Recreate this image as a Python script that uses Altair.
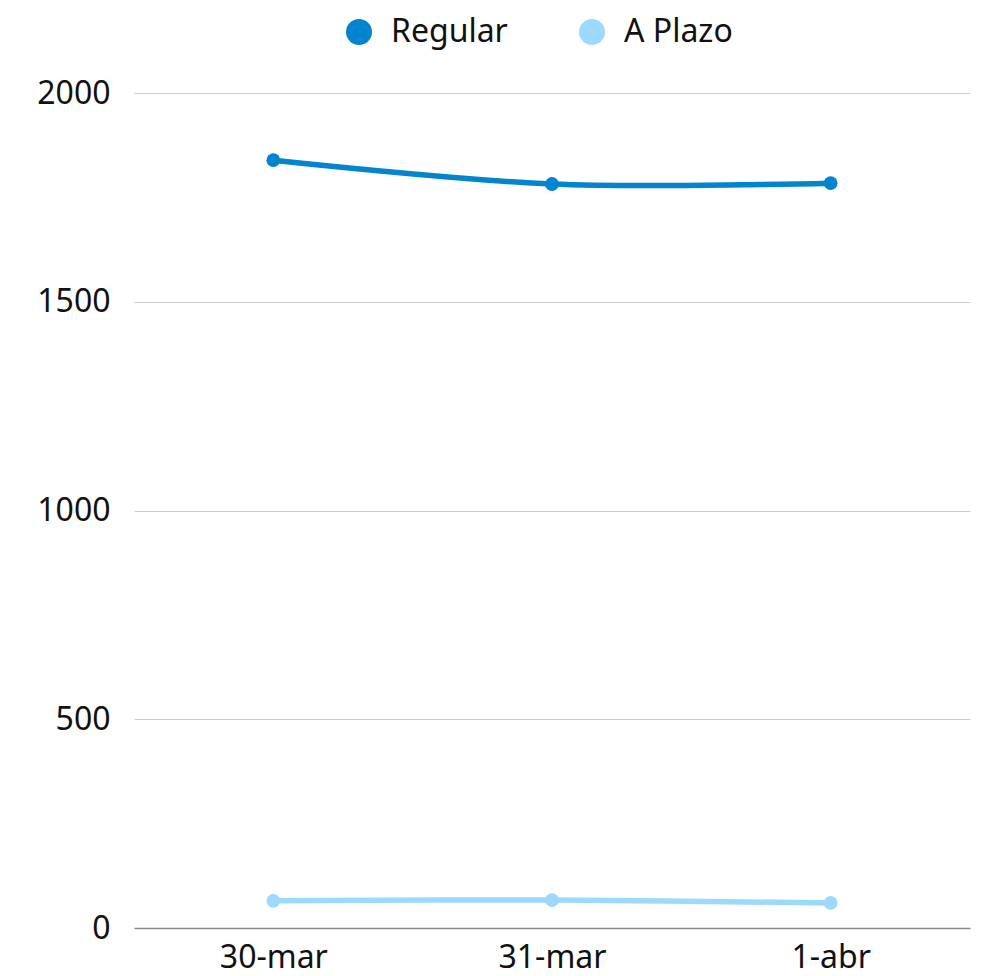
import altair as alt
import pandas as pd

dates = ["30-mar", "31-mar", "1-abr"]
regular = [1839, 1782, 1784]
a_plazo = [65, 67, 60]
series_names = ["Regular", "A Plazo"]
colors = ["#0284CE", "#9DD9FD"]

rows = []
for d, v in zip(dates, regular):
    rows.append({"fecha": d, "serie": "Regular", "valor": v})
for d, v in zip(dates, a_plazo):
    rows.append({"fecha": d, "serie": "A Plazo", "valor": v})
df = pd.DataFrame(rows)

FONT = "Noto Sans"

x = alt.X("fecha:N", sort=dates, title=None,
          scale=alt.Scale(type="point", padding=0.5),
          axis=alt.Axis(labelAngle=0, labelFontSize=32, labelColor="#111111",
                        labelFont=FONT, ticks=False, domainColor="#8c8c8c",
                        domainWidth=1.5, labelPadding=14, grid=False))
y = alt.Y("valor:Q", title=None,
          scale=alt.Scale(domain=[0, 2000], nice=False),
          axis=alt.Axis(values=[0, 500, 1000, 1500, 2000], format="d",
                        labelFontSize=32,
                        labelColor="#111111", labelFont=FONT, ticks=False,
                        domain=False, gridColor="#cccccc", gridWidth=1,
                        labelPadding=24))
color = alt.Color("serie:N", sort=series_names,
                  scale=alt.Scale(domain=series_names, range=colors),
                  legend=alt.Legend(title=None, orient="none", direction="horizontal",
                                    legendX=209, legendY=-77,
                                    symbolType="circle", symbolSize=676,
                                    symbolStrokeWidth=0, labelFontSize=32,
                                    labelFont=FONT, labelColor="#111111",
                                    labelOffset=16, columnPadding=68,
                                    symbolOpacity=1))

base = alt.Chart(df)
lines = base.mark_line(strokeWidth=5.5, interpolate="catmull-rom").encode(
    x=x, y=y, color=color)
points = base.mark_circle(size=190, opacity=1).encode(
    x=x, y=y, color=alt.Color("serie:N", sort=series_names,
                              scale=alt.Scale(domain=series_names, range=colors),
                              legend=None))

chart = alt.layer(lines, points).properties(
    width=836, height=835,
    background="white",
    autosize=alt.AutoSizeParams(type="none"),
    padding={"left": 126, "top": 85, "right": 4, "bottom": 48},
).configure_view(strokeWidth=0, stroke="transparent")

chart.save("out.html", embed_options={"renderer": "svg", "actions": False})
